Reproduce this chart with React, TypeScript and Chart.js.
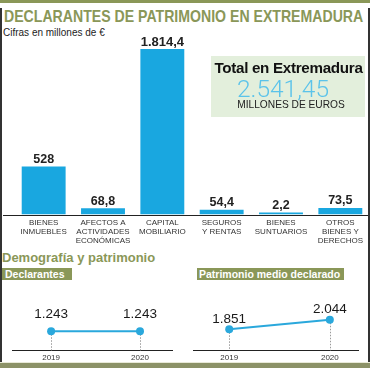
import React, { useEffect, useRef } from "react";
import { Chart, registerables } from "chart.js";

Chart.register(...registerables);

// ---------- data ----------
const categories: string[][] = [
  ["BIENES", "INMUEBLES"],
  ["AFECTOS A", "ACTIVIDADES", "ECONÓMICAS"],
  ["CAPITAL", "MOBILIARIO"],
  ["SEGUROS", "Y RENTAS"],
  ["BIENES", "SUNTUARIOS"],
  ["OTROS", "BIENES Y", "DERECHOS"],
];
const patrimonioValues = [528, 68.8, 1814.4, 54.4, 2.2, 73.5];
const totalExtremadura = 2541.45;
const years = [2019, 2020];
const declarantesValues = [1243, 1243];
const patrimonioMedioValues = [1851, 2044];

// ---------- helpers ----------
const FONT = "'Liberation Sans', Arial, Helvetica, sans-serif";
const OLIVE = "#8a9758";
const BAR = "#19a7e0";
const LINE = "#2aa8dc";

function fmtEs(v: number, decimals?: number): string {
  const d = decimals ?? (Number.isInteger(v) ? 0 : 1);
  const fixed = v.toFixed(d);
  const [i, dec] = fixed.split(".");
  const grouped = i.replace(/\B(?=(\d{3})+(?!\d))/g, ".");
  return dec ? grouped + "," + dec : grouped;
}

const barLabelPlugin = {
  id: "barLabels",
  afterDatasetsDraw(chart: any) {
    const ctx = chart.ctx;
    const meta = chart.getDatasetMeta(0);
    const data = chart.data.datasets[0].data as number[];
    ctx.save();
    ctx.fillStyle = "#222";
    ctx.textAlign = "center";
    ctx.textBaseline = "middle";
    meta.data.forEach((el: any, i: number) => {
      const big = data[i] > 1000;
      ctx.font = `bold ${big ? 13 : 12.5}px ${FONT}`;
      ctx.fillText(fmtEs(data[i]), el.x, el.y - 7);
    });
    ctx.restore();
  },
};

const axisLinePlugin = {
  id: "axisLine",
  afterDraw(chart: any) {
    const ctx = chart.ctx;
    const y = Math.round(chart.chartArea.bottom) + 0.5;
    ctx.save();
    ctx.strokeStyle = "#222";
    ctx.lineWidth = 1;
    ctx.beginPath();
    ctx.moveTo(3, y);
    ctx.lineTo(chart.width - 2, y);
    ctx.stroke();
    ctx.restore();
  },
};

function makeLinePlugin(offset: number) {
  return {
    id: "lineLabels",
    beforeDatasetsDraw(chart: any) {
      const ctx = chart.ctx;
      const meta = chart.getDatasetMeta(0);
      ctx.save();
      ctx.strokeStyle = "#9a9a9a";
      ctx.lineWidth = 1;
      ctx.setLineDash([1.5, 1.5]);
      meta.data.forEach((p: any) => {
        const x = Math.round(p.x) + 0.5;
        ctx.beginPath();
        ctx.moveTo(x, p.y);
        ctx.lineTo(x, chart.chartArea.bottom);
        ctx.stroke();
      });
      ctx.restore();
    },
    afterDatasetsDraw(chart: any) {
      const ctx = chart.ctx;
      const meta = chart.getDatasetMeta(0);
      const data = chart.data.datasets[0].data as any[];
      ctx.save();
      ctx.fillStyle = "#1a1a1a";
      ctx.textAlign = "center";
      ctx.textBaseline = "middle";
      ctx.font = `13.5px ${FONT}`;
      meta.data.forEach((p: any, i: number) => {
        ctx.fillText(fmtEs(data[i].y), p.x, p.y - offset);
      });
      ctx.restore();
    },
  };
}

function SmallLine(props: {
  values: number[];
  xMin: number;
  xMax: number;
  yMin: number;
  yMax: number;
  padLeft: number;
  padRight: number;
  labelOffset: number;
  style: React.CSSProperties;
}) {
  const ref = useRef<HTMLCanvasElement | null>(null);
  useEffect(() => {
    if (!ref.current) return;
    const chart = new Chart(ref.current, {
      type: "line",
      data: {
        datasets: [
          {
            data: years.map((y, i) => ({ x: y, y: props.values[i] })),
            borderColor: LINE,
            backgroundColor: LINE,
            borderWidth: 2,
            pointRadius: 4,
            pointBorderWidth: 0,
            pointBackgroundColor: LINE,
            clip: false as any,
          },
        ],
      },
      options: {
        animation: false,
        responsive: false,
        maintainAspectRatio: false,
        layout: { padding: { left: props.padLeft, right: props.padRight, top: 5, bottom: 0 } },
        plugins: { legend: { display: false }, tooltip: { enabled: false } },
        scales: {
          x: {
            type: "linear",
            min: props.xMin,
            max: props.xMax,
            afterBuildTicks: (axis: any) => {
              axis.ticks = years.map((v) => ({ value: v }));
            },
            grid: { display: false, drawTicks: false },
            border: { display: true, color: "#222", width: 1 },
            ticks: {
              padding: 3,
              color: "#333",
              font: { family: FONT, size: 8 },
              callback: (v: any) => String(v),
            },
          },
          y: { display: false, min: props.yMin, max: props.yMax },
        },
      },
      plugins: [makeLinePlugin(props.labelOffset)],
    });
    return () => chart.destroy();
  }, []);
  return <canvas ref={ref} width={185} height={78} style={{ position: "absolute", ...props.style }} />;
}

function BarChart() {
  const ref = useRef<HTMLCanvasElement | null>(null);
  useEffect(() => {
    if (!ref.current) return;
    const chart = new Chart(ref.current, {
      type: "bar",
      data: {
        labels: categories,
        datasets: [
          {
            data: patrimonioValues,
            backgroundColor: BAR,
            barPercentage: 0.74,
            categoryPercentage: 1,
            minBarLength: 2,
          },
        ],
      },
      options: {
        animation: false,
        responsive: false,
        maintainAspectRatio: false,
        layout: { padding: { left: 14, right: 0, top: 10, bottom: 0 } },
        plugins: { legend: { display: false }, tooltip: { enabled: false } },
        scales: {
          x: {
            grid: { display: false, drawTicks: false },
            border: { display: false },
            ticks: {
              padding: 4,
              color: "#333",
              maxRotation: 0,
              autoSkip: false,
              font: { family: FONT, size: 8, lineHeight: 1.1 },
            },
          },
          y: { display: false, min: 0, max: 1914 },
        },
      },
      plugins: [barLabelPlugin, axisLinePlugin],
    });
    return () => chart.destroy();
  }, []);
  return <canvas ref={ref} width={370} height={219} style={{ position: "absolute", left: 0, top: 30 }} />;
}

export default function App() {
  const abs = (s: React.CSSProperties): React.CSSProperties => ({ position: "absolute", whiteSpace: "nowrap", ...s });
  return (
    <div
      style={{
        position: "fixed",
        left: 0,
        top: 0,
        width: 370,
        height: 368,
        background: "#fff",
        overflow: "hidden",
        fontFamily: FONT,
      }}
    >
      {/* frame */}
      <div style={abs({ left: 0, top: 0, width: 370, height: 3, background: OLIVE })} />
      <div style={abs({ left: 0, top: 8, width: 1.5, height: 356, background: "#333" })} />
      <div style={abs({ left: 368, top: 8, width: 2, height: 356, background: "#333" })} />
      <div style={abs({ left: 0, top: 362, width: 370, height: 1, background: "#e9ead8" })} />
      <div style={abs({ left: 0, top: 363, width: 370, height: 5, background: "#8c9267" })} />

      {/* title */}
      <div
        style={abs({
          left: 4,
          top: 8,
          fontSize: 16.5,
          lineHeight: "16px",
          fontWeight: 700,
          color: OLIVE,
          transform: "scaleX(0.855)",
          transformOrigin: "left top",
        })}
      >
        DECLARANTES DE PATRIMONIO EN EXTREMADURA
      </div>
      <div style={abs({ left: 3, top: 28, fontSize: 10, lineHeight: "10px", color: "#222" })}>
        Cifras en millones de €
      </div>

      <BarChart />

      {/* total box */}
      <div style={abs({ left: 211, top: 56, width: 154, height: 61, background: "#e3efdc" })}>
        <div
          style={abs({
            left: 0,
            top: 5,
            width: 155,
            textAlign: "center",
            fontSize: 15.2,
            lineHeight: "14px",
            fontWeight: 700,
            color: "#111",
            letterSpacing: -0.3,
          })}
        >
          Total en Extremadura
        </div>
        <div
          style={abs({
            left: 0,
            top: 21,
            width: 144,
            textAlign: "center",
            fontSize: 24.5,
            lineHeight: "23px",
            fontWeight: 300,
            fontFamily: "Roboto, 'Open Sans', " + FONT,
            color: "#5bc3ea",
          })}
        >
          {fmtEs(totalExtremadura, 2)}
        </div>
        <div
          style={abs({
            left: 0,
            top: 44,
            width: 160,
            textAlign: "center",
            fontSize: 10.2,
            lineHeight: "10px",
            color: "#222",
          })}
        >
          MILLONES DE EUROS
        </div>
      </div>

      {/* bottom section */}
      <div style={abs({ left: 2, top: 251, fontSize: 13, lineHeight: "13px", fontWeight: 700, color: OLIVE })}>
        Demografía y patrimonio
      </div>
      <div
        style={abs({
          left: 2,
          top: 268,
          width: 70,
          height: 12,
          background: OLIVE,
          color: "#fff",
          fontSize: 10.5,
          lineHeight: "12px",
          fontWeight: 700,
          paddingLeft: 3,
          boxSizing: "border-box",
        })}
      >
        Declarantes
      </div>
      <div
        style={abs({
          left: 197,
          top: 268,
          width: 147,
          height: 12,
          background: OLIVE,
          color: "#fff",
          fontSize: 10.5,
          lineHeight: "12px",
          fontWeight: 700,
          paddingLeft: 2,
          boxSizing: "border-box",
        })}
      >
        Patrimonio medio declarado
      </div>

      <SmallLine
        values={declarantesValues}
        xMin={2018.56}
        xMax={2020.36}
        yMin={857}
        yMax={2015}
        padLeft={12}
        padRight={13}
        labelOffset={17}
        style={{ left: 0, top: 288 }}
      />
      <SmallLine
        values={patrimonioMedioValues}
        xMin={2018.64}
        xMax={2020.28}
        yMin={1426}
        yMax={2584}
        padLeft={8}
        padRight={12}
        labelOffset={10}
        style={{ left: 185, top: 288 }}
      />
    </div>
  );
}
